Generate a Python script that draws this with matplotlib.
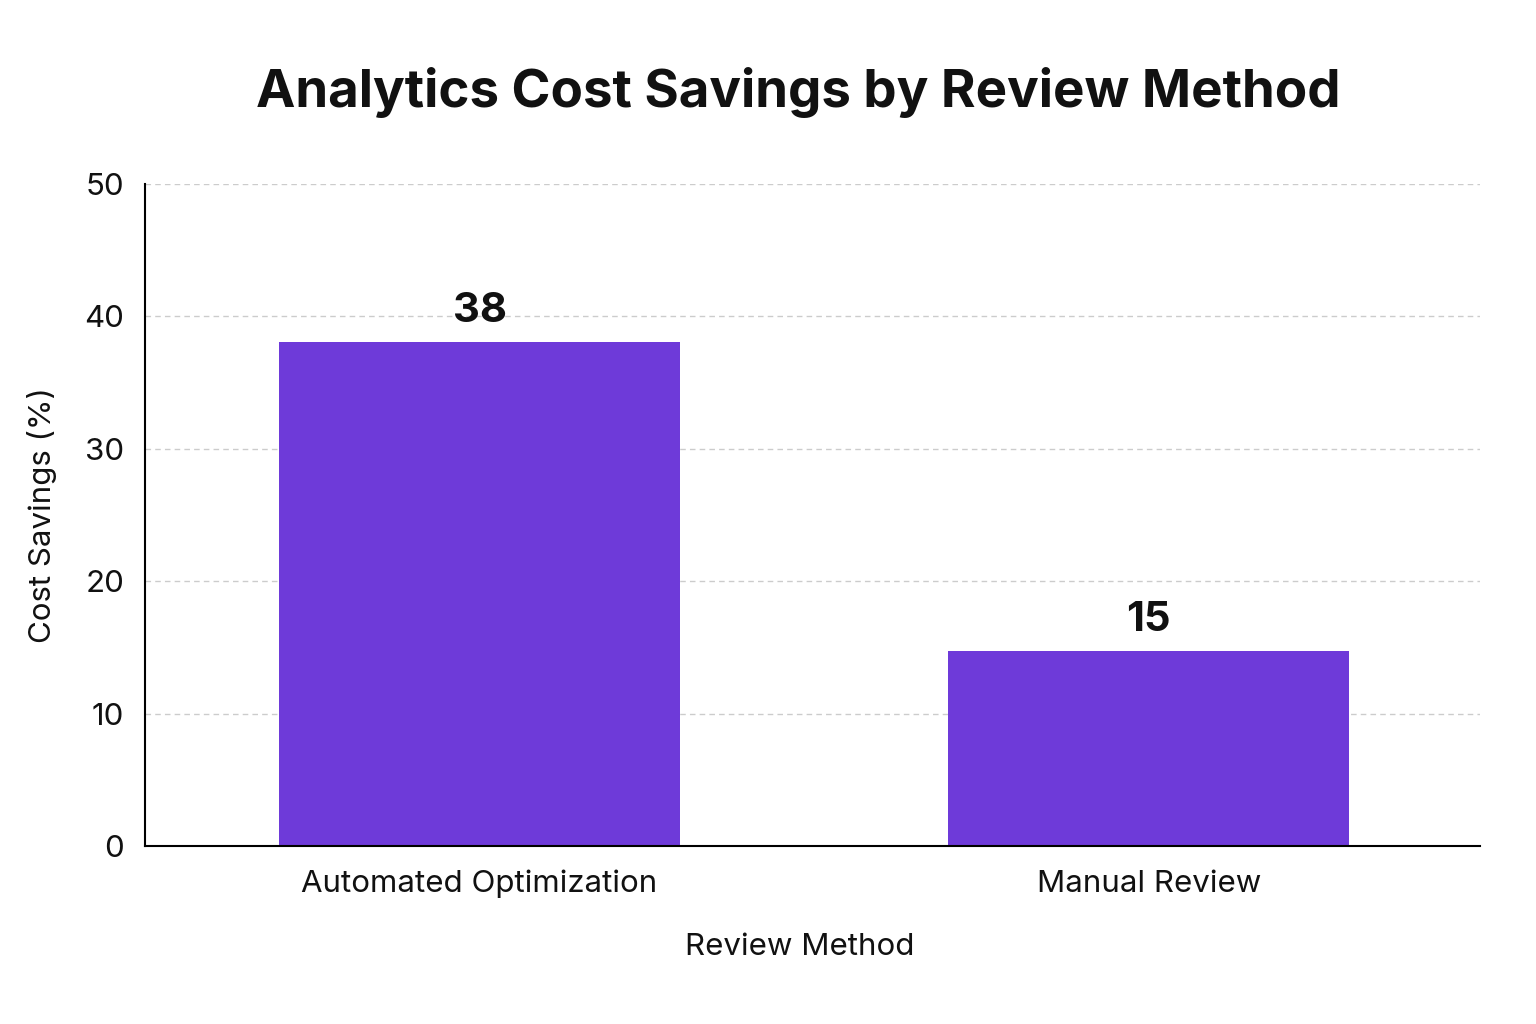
import matplotlib
matplotlib.use('Agg')
import matplotlib.pyplot as plt

# data
methods = ['Automated Optimization', 'Manual Review']
savings = [38.1, 14.7]
labels = ['38', '15']
yticks = [0, 10, 20, 30, 40, 50]

plt.rcParams['font.family'] = ['Inter', 'DejaVu Sans']

fig = plt.figure(figsize=(15.36, 10.24), dpi=100)
ax = fig.add_axes([0.0944, 0.1738, 0.8691, 0.6465])

bars = ax.bar(range(len(methods)), savings, width=0.6, color='#6E3AD9', zorder=2)

# value labels above bars
for b, lab in zip(bars, labels):
    ax.text(b.get_x() + b.get_width() / 2, b.get_height() + 0.9, lab,
            ha='center', va='bottom', fontsize=30, fontweight='bold', color='#111111')

ax.set_xlim(-0.5, 1.495)
ax.set_ylim(0, 50)
ax.set_yticks(yticks)
ax.set_xticks(range(len(methods)))
ax.set_xticklabels(methods)
ax.tick_params(axis='both', length=0, labelsize=22.5, colors='#111111')
ax.tick_params(axis='x', pad=17)
ax.tick_params(axis='y', pad=15)

ax.yaxis.grid(True, linestyle=(0, (4, 3)), color='#cccccc', linewidth=1, zorder=0)
ax.spines['top'].set_visible(False)
ax.spines['right'].set_visible(False)
ax.spines['left'].set_linewidth(1.5)
ax.spines['bottom'].set_linewidth(1.5)

ax.set_xlabel('Review Method', fontsize=22.5, color='#111111')
ax.xaxis.set_label_coords((800 - 145) / 1335, -0.131)
ax.set_ylabel('Cost Savings (%)', fontsize=22.5, labelpad=20, color='#111111')

fig.text(0.52, 0.91, 'Analytics Cost Savings by Review Method',
         ha='center', va='center', fontsize=38, fontweight='bold', color='#111111')

fig.savefig('out.png', dpi=100, facecolor='white')
